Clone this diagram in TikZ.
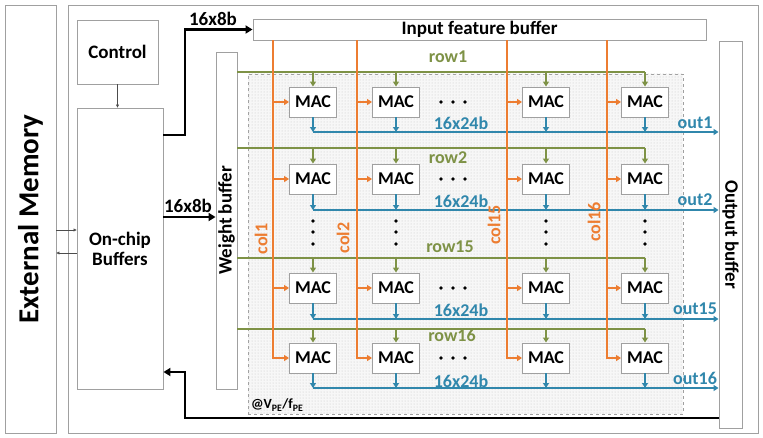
\documentclass[tikz,border=0pt]{standalone}
\usepackage{fontspec}
\setmainfont{Carlito}
\usetikzlibrary{arrows.meta,patterns,positioning}
\definecolor{colorange}{RGB}{237,125,49}
\definecolor{rowolive}{RGB}{126,146,70}
\definecolor{outblue}{RGB}{48,135,172}
\definecolor{boxgray}{RGB}{160,160,160}
\begin{document}
\begin{tikzpicture}[x=1pt,y=-1pt,
  every node/.style={font=\bfseries\fontsize{19}{20}\selectfont},
  box/.style={draw=boxgray,fill=white,line width=0.9pt,inner sep=0pt},
  mac/.style={box,minimum width=47pt,minimum height=30pt,font=\bfseries\fontsize{18}{18}\selectfont},
  tag/.style={inner sep=0pt,font=\bfseries\fontsize{18}{18}\selectfont},
  bus/.style={line width=2.8pt,-{Triangle[length=7pt,width=8pt]}},
  colsig/.style={colorange,line width=1.8pt},
  rowsig/.style={rowolive,line width=1.8pt},
  outsig/.style={outblue,line width=1.8pt},
  sigtip/.style={-{Triangle[length=5pt,width=6pt]}},
  thinarrow/.style={draw=black!70,line width=0.6pt,-{Triangle[length=3pt,width=3pt]}}]
\useasboundingbox (0,0) rectangle (763,437);
% frames
\node[box,minimum width=51pt,minimum height=428pt] (extmem) at (30.5,219) {};
\node[rotate=90,font=\bfseries\fontsize{29}{29}\selectfont] (extmemtext) at (extmem) {External Memory};
\node[box,minimum width=690pt,minimum height=428pt] (chip) at (413,219) {};
% buffers
\node[box,minimum width=81pt,minimum height=64pt] (control) at (117.5,52) {Control};
\node[box,minimum width=86pt,minimum height=281pt,align=center] (onchip) at (120,248.5) {On-chip\\Buffers};
\node[box,minimum width=453pt,minimum height=21pt] (ifbuf) at (479.5,29.5) {Input feature buffer};
\node[box,minimum width=21pt,minimum height=337pt] (wbuf) at (226.5,220.5) {};
\node[rotate=90] (wbuftext) at (wbuf) {Weight buffer};
\node[box,minimum width=23pt,minimum height=387pt] (obuf) at (730.5,234.5) {};
\node[rotate=-90] (obuftext) at (obuf) {Output buffer};
% PE array
\node[draw=boxgray,dashed,fill=gray!6,minimum width=435pt,minimum height=340pt] (pe) at (465.5,244) {};
\fill[pattern=dots,pattern color=gray!45] (pe.north west) rectangle (pe.south east);
\node[anchor=south west,inner sep=3pt,font=\bfseries\fontsize{14}{14}\selectfont] (petext) at (pe.south west) {@V\textsubscript{PE}/f\textsubscript{PE}};
\foreach \r/\ym in {1/102,2/179,15/288,16/358}
  \foreach \c/\xm in {1/313,2/396,15/546,16/645}
    \node[mac] (mac\r-\c) at (\xm,\ym) {MAC};
\foreach \c/\xc in {1/273,2/357,15/507,16/607}
  \coordinate (col\c) at (\xc,0);
% row and output busses
\foreach \r/\yr/\yo in {1/72/132,2/148/210,15/258/319,16/329/388}{
  \coordinate (row\r) at (0,\yr);
  \coordinate (out\r) at (0,\yo);
  \draw[rowsig] (wbuf.east |- row\r) -- (mac\r-16.north |- row\r);
  \draw[outsig,sigtip] (mac\r-1.south |- out\r) -- (obuf.west |- out\r);
  \foreach \c in {1,2,15,16}{
    \draw[rowsig,sigtip] (mac\r-\c.north |- row\r) -- (mac\r-\c.north);
    \draw[outsig,sigtip] (mac\r-\c.south) -- (mac\r-\c.south |- out\r);
  }
}
% column busses
\foreach \c in {1,2,15,16}{
  \draw[colsig,sigtip] (ifbuf.south -| col\c) |- (mac16-\c.west);
  \foreach \r in {1,2,15}
    \draw[colsig,sigtip] (col\c |- mac\r-\c.west) -- (mac\r-\c.west);
}
% dots
\foreach \xm in {313,396,546,645}
  \foreach \yd in {221,232,244}
    \fill (\xm,\yd) circle (1.8pt);
\foreach \ym in {102,179,288,358}
  \foreach \xd in {441,453,465}
    \fill (\xd,\ym) circle (1.8pt);
% labels
\foreach \r/\x/\y in {1/448/57,2/448/158,15/450/247,16/452/335}
  \node[tag,rowolive] (rowtext\r) at (\x,\y) {row\r};
\foreach \r/\y in {1/123,2/201,15/310,16/381}
  \node[tag,outblue] (widthtext\r) at (461,\y) {16x24b};
\foreach \r/\y in {1/123,2/200,15/309,16/378}
  \node[tag,outblue] (outtext\r) at (695,\y) {out\r};
\foreach \c/\x/\y in {1/261/239,2/343/238,15/494/225,16/594/222}
  \node[tag,colorange,rotate=90] (coltext\c) at (\x,\y) {col\c};
% thick busses
\coordinate (upbend) at (185,0);
\draw[bus] (onchip.east |- 0,135) -- (upbend |- 0,135) |- (ifbuf.west);
\node (busintext) at (213,19) {16x8b};
\draw[bus] (onchip.east |- 0,217) -- (wbuf.west |- 0,217);
\node (buswtext) at (188,206) {16x8b};
\coordinate (retbend) at (185,372);
\draw[bus] (obuf.west |- 0,418) -| (retbend) -- (onchip.east |- retbend);
% control and memory links
\draw[thinarrow] (control.south) -- (control.south |- onchip.north);
\draw[thinarrow] (extmem.east |- 0,230) -- (onchip.west |- 0,230);
\draw[thinarrow] (onchip.west |- 0,253) -- (extmem.east |- 0,253);
\end{tikzpicture}
\end{document}
